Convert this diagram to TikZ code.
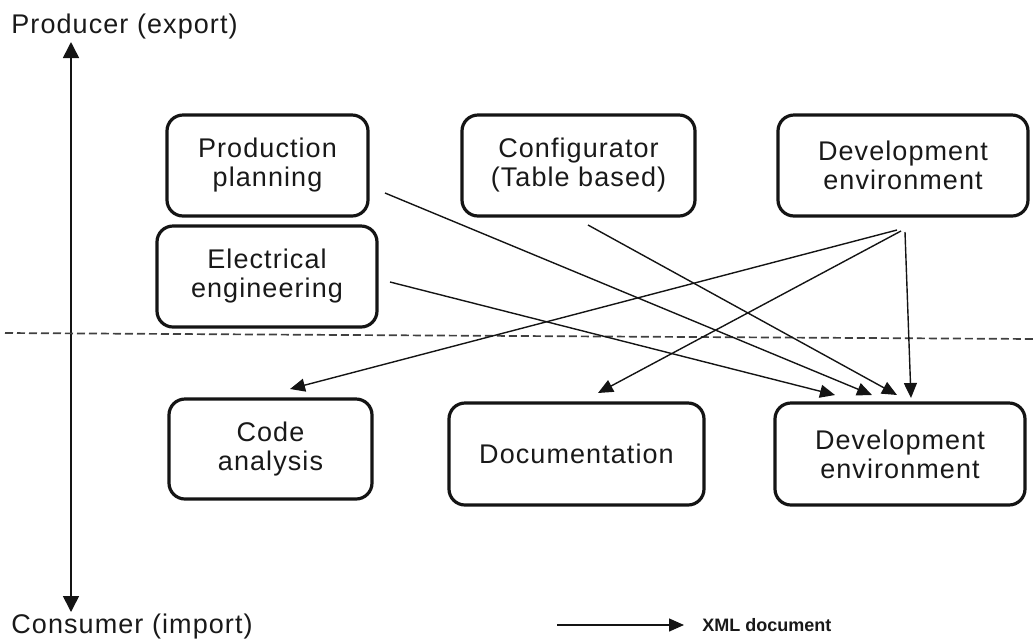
\documentclass[tikz,border=0pt]{standalone}
\usepackage{fontspec}
\setmainfont[LetterSpace=4]{Liberation Sans}
\newfontfamily\legendfont{Liberation Sans}
\usetikzlibrary{arrows.meta}
\begin{document}
\begin{tikzpicture}[x=0.5pt,y=-0.5pt,
  box/.style={draw=black!92, line width=1.6pt, rounded corners=8pt, align=center,
    inner sep=0pt, font=\fontsize{13.5}{14.5}\selectfont, text=black!90},
  flow/.style={draw=black!92, line width=0.7pt, -{Triangle[length=7.5pt,width=6.5pt]}},
  axis/.style={draw=black!92, line width=0.8pt,
    {Triangle[length=8pt,width=8pt]}-{Triangle[length=8pt,width=8pt]}},
  lbl/.style={anchor=base west, inner sep=0pt, font=\fontsize{13.5}{14}\selectfont, text=black!90},
  divider/.style={draw=black!75, line width=0.85pt, dash pattern=on 4pt off 2pt}
]
\useasboundingbox (0,0) rectangle (1035,639);

% producer side
\node[box, minimum width=100.5pt, minimum height=50.5pt] (pp) at (267.5,165.5) {Production\\planning};
\node[box, minimum width=110pt,   minimum height=50.5pt] (ee) at (267,276.5)   {Electrical\\engineering};
\node[box, minimum width=116.5pt, minimum height=50.5pt] (cf) at (578.5,165.5) {Configurator\\(Table based)};
\node[box, minimum width=125pt,   minimum height=50.5pt] (dt) at (903,165.5)   {Development\\environment};

% consumer side
\node[box, minimum width=101.5pt, minimum height=50pt]   (ca)  at (270.5,449) {Code\\analysis};
\node[box, minimum width=127.5pt, minimum height=51pt]   (doc) at (576.5,454) {Documentation};
\node[box, minimum width=125pt,   minimum height=51pt]   (db)  at (900,454)   {Development\\environment};

% axis and divider
\node[lbl] (prod) at (11,33)  {Producer (export)};
\node[lbl] (cons) at (11,633) {Consumer (import)};
\coordinate (ax-top) at (71,42);
\coordinate (ax-bot) at (71,612);
\draw[axis] (ax-top) -- (ax-bot);
\coordinate (dv-l) at (5,333);
\coordinate (dv-r) at (1035,339);
\draw[divider] (dv-l) -- (dv-r);

% document flows
\coordinate (pp-out)  at (385,193);
\coordinate (ee-out)  at (390,282);
\coordinate (cf-out)  at (588,225);
\coordinate (dt-out1) at (905,232);
\coordinate (dt-out2) at (897,230);
\coordinate (dt-out3) at (901,231);
\coordinate (db-in1)  at (835,395);
\coordinate (db-in2)  at (872,395);
\coordinate (db-in3)  at (897,395);
\coordinate (db-in4)  at (911,398);
\coordinate (ca-in)   at (290,389);
\coordinate (doc-in)  at (598,393);

\draw[flow] (ee-out)  -- (db-in1);
\draw[flow] (pp-out)  -- (db-in2);
\draw[flow] (cf-out)  -- (db-in3);
\draw[flow] (dt-out1) -- (db-in4);
\draw[flow] (dt-out2) -- (ca-in);
\draw[flow] (dt-out3) -- (doc-in);

% legend
\coordinate (lg-a) at (557,625);
\coordinate (lg-b) at (684,625);
\draw[flow] (lg-a) -- (lg-b);
\node[anchor=west, inner sep=0pt, font=\legendfont\bfseries\fontsize{9}{10}\selectfont, text=black!90] (lg) at (702,625) {XML document};
\end{tikzpicture}
\end{document}
